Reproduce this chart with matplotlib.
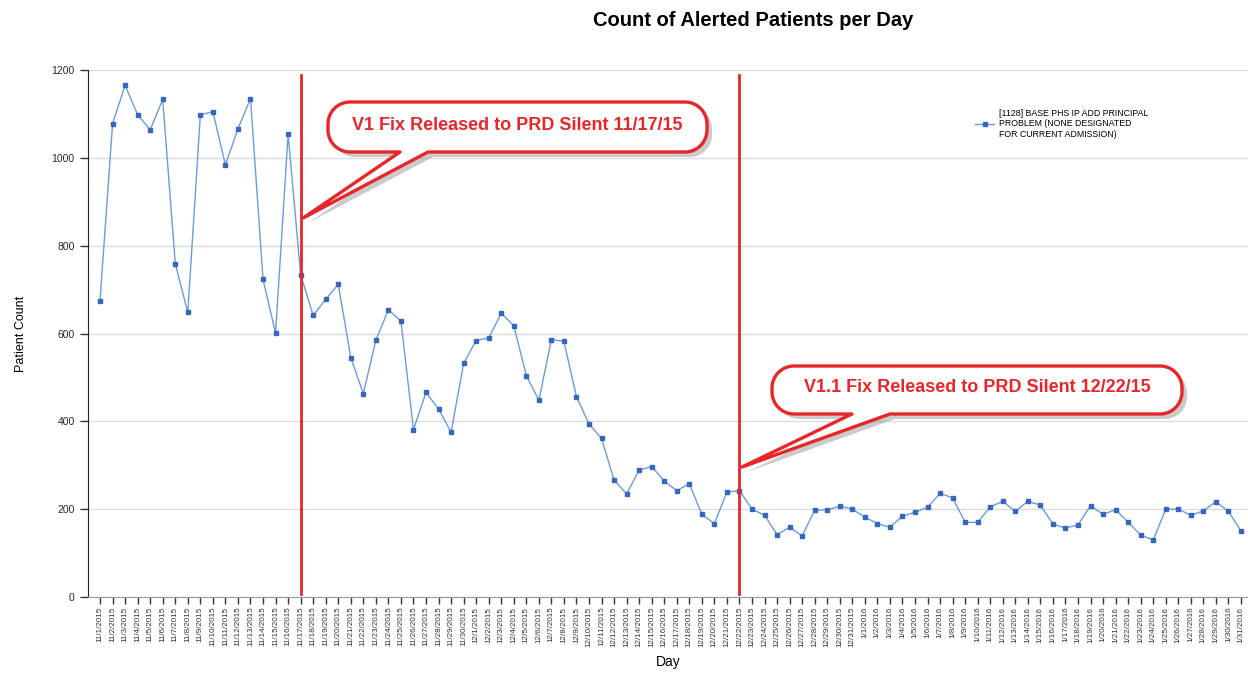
import numpy as np
import pandas as pd
import matplotlib
matplotlib.use("Agg")
import matplotlib.pyplot as plt
from matplotlib.patches import Polygon

plt.rcParams["font.family"] = ["Liberation Sans", "DejaVu Sans"]

# daily counts 11/1/2015 - 1/31/2016
dates = pd.date_range("2015-11-01", "2016-01-31", freq="D")
nov = [675, 1078, 1165, 1098, 1064, 1133, 759, 648, 1098, 1105,
       984, 1066, 1135, 723, 601, 1054, 734, 641, 678, 712,
       545, 463, 585, 654, 628, 381, 466, 428, 375, 532]
dec = [584, 590, 646, 618, 504, 448, 586, 582, 456, 394,
       361, 266, 235, 289, 297, 264, 242, 258, 188, 167,
       239, 242, 200, 186, 142, 159, 139, 198, 198, 207, 200]
jan = [182, 167, 159, 184, 193, 204, 236, 226, 170, 170,
       205, 218, 195, 218, 209, 166, 157, 164, 208, 188,
       199, 170, 141, 130, 200, 200, 186, 196, 217, 195, 150]
counts = nov + dec + jan
labels = [f"{d.month}/{d.day}/{d.year}" for d in dates]

series_name = "[1128] BASE PHS IP ADD PRINCIPAL\nPROBLEM (NONE DESIGNATED\nFOR CURRENT ADMISSION)"

# releases: (day label, level the callout points at, text)
releases = [("11/17/2015", 863, "V1 Fix Released to PRD Silent 11/17/15"),
            ("12/22/2015", 296, "V1.1 Fix Released to PRD Silent 12/22/15")]

W, H = 1248, 683
RED = "#e8262a"

fig = plt.figure(figsize=(W / 100, H / 100), dpi=100)
ax = fig.add_axes([88 / W, (H - 597) / H, 1160 / W, 527 / H])

x = np.arange(len(counts))
ax.plot(x, counts, color="#6a9be0", lw=1, marker="s", markersize=2.6,
        markerfacecolor="#3567c0", markeredgecolor="#3567c0", label=series_name, zorder=3)

ax.set_xlim(-0.96, len(counts) - 0.44)
ax.set_ylim(0, 1200)
ax.set_yticks(range(0, 1201, 200))
ax.set_xticks(x)
ax.set_xticklabels(labels, rotation=90, fontsize=5.8, color="#333333")
ax.tick_params(axis="y", labelsize=7.5, labelcolor="#2a2233", length=6, width=1, color="#333333")
ax.tick_params(axis="x", length=5, width=1, color="#333333", pad=2)
ax.grid(axis="y", color="#dcdcdc", lw=1)
ax.set_axisbelow(True)
for s in ["top", "right"]:
    ax.spines[s].set_visible(False)
ax.spines["left"].set_color("#222222")
ax.spines["bottom"].set_color("#999999")

ax.set_ylabel("Patient Count", fontsize=9, labelpad=18)
ax.set_xlabel("Day", fontsize=10, labelpad=6)
fig.text(753 / W, 1 - 20 / H, "Count of Alerted Patients per Day",
         ha="center", va="center", fontsize=14.5, fontweight="bold")

ax.legend(loc="upper left", bbox_to_anchor=((975 - 88) / 1160, (597 - 109) / 527),
          frameon=False, fontsize=6.3, handlelength=2.2, handletextpad=0.5,
          borderpad=0, borderaxespad=0)

# vertical release markers
for lab, lvl, txt in releases:
    ax.axvline(labels.index(lab), ymin=0.005, ymax=0.99, color=RED, lw=2, zorder=4)


def arc(cx, cy, r, a0, a1):
    t = np.radians(np.linspace(a0, a1, 14))
    return list(zip(cx + r * np.cos(t), cy + r * np.sin(t)))


def callout(box, base, tip, text):
    # box and base in image pixels (top-left origin), tip in display pixels
    x0, y0, x1, y1 = box
    yb, yt = H - y1, H - y0
    r = 22
    pts = [(base[1], yb)]
    pts += arc(x1 - r, yb + r, r, -90, 0)
    pts += arc(x1 - r, yt - r, r, 0, 90)
    pts += arc(x0 + r, yt - r, r, 90, 180)
    pts += arc(x0 + r, yb + r, r, 180, 270)
    pts += [(base[0], yb), tip]
    pts = np.array(pts)
    shadow = pts + np.array([5, -5])
    fig.add_artist(Polygon(shadow / [W, H], closed=True, transform=fig.transFigure,
                           fc="#8c8c8c", ec="none", alpha=0.45, zorder=5))
    fig.add_artist(Polygon(pts / [W, H], closed=True, transform=fig.transFigure,
                           fc="white", ec=RED, lw=2.4, joinstyle="round", zorder=6))
    fig.text((x0 + x1) / 2 / W, 1 - ((y0 + y1) / 2 - 2) / H, text, ha="center", va="center",
             color=RED, fontsize=13, fontweight="bold", zorder=7)


boxes = [((328, 102, 707, 152), (400, 428)),
         ((772, 366, 1182, 414), (852, 890))]
for (lab, lvl, txt), (box, base) in zip(releases, boxes):
    tip = ax.transData.transform((labels.index(lab) + 0.2, lvl))
    callout(box, base, tuple(tip), txt)

fig.savefig("out.png", dpi=100)
